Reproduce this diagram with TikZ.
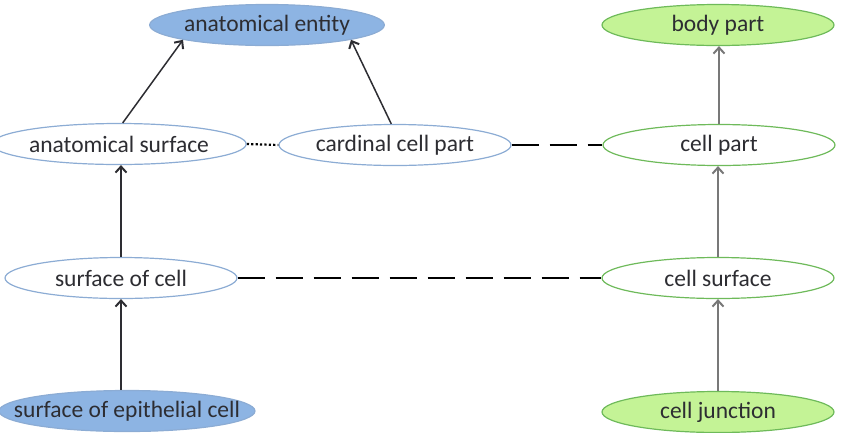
\documentclass[tikz,border=0pt]{standalone}
\usepackage{fontspec}
\setmainfont{Carlito}
\usetikzlibrary{shapes.geometric,arrows.meta}
\definecolor{bluefill}{RGB}{141,180,227}
\definecolor{blueline}{RGB}{140,172,212}
\definecolor{greenfill}{RGB}{196,243,150}
\definecolor{greenline}{RGB}{110,186,90}
\definecolor{textgray}{RGB}{45,45,50}
\definecolor{arrowgray}{RGB}{120,120,120}
\begin{document}
\begin{tikzpicture}[x=1pt,y=-1pt,>={Straight Barb[length=6pt,width=11pt,line width=2pt]},line join=round,font=\fontsize{23.5}{27}\selectfont,
	term/.style={ellipse,minimum width=232pt,minimum height=41pt,inner sep=0pt,text=textgray,line width=1.2pt},
	bterm/.style={term,draw=blueline,fill=white},
	bfill/.style={term,draw=blueline,fill=bluefill},
	gterm/.style={term,draw=greenline,fill=white},
	gfill/.style={term,draw=greenline,fill=greenfill},
	isa/.style={->,line width=1.5pt},
	same/.style={line width=2.8pt,dash pattern=on 27pt off 11pt},
	near/.style={line width=2.2pt,dash pattern=on 2.2pt off 2.2pt}]
	\useasboundingbox (0,0) rectangle (847,432);
	%cot trai
	\node[bfill] (ae) at (267,25) {anatomical entity};
	\node[bterm] (as) at (119,144) {anatomical surface};
	\node[bterm] (ccp) at (395,145) {cardinal cell part};
	\node[bterm] (soc) at (121,278) {surface of cell};
	\node[bfill,minimum width=256pt,inner xsep=-30pt] (sec) at (127,411) {surface of epithelial cell};
	%cot phai
	\node[gfill] (bp) at (718,25) {body part};
	\node[gterm] (cp) at (719,145) {cell part};
	\node[gterm] (cs) at (718,278) {cell surface};
	\node[gfill] (cj) at (718,412) {cell junction};
	%is-a
	\draw[isa,draw=textgray] (as.80) -- (ae.190);
	\draw[isa,draw=textgray] (ccp.100) -- (ae.350);
	\draw[isa,draw=textgray] (soc.north) -- (soc.north |- as.south);
	\draw[isa,draw=textgray] (soc.south |- sec.north) -- (soc.south);
	\draw[isa,draw=arrowgray] (cp.north) -- (cp.north |- bp.south);
	\draw[isa,draw=arrowgray] (cs.north) -- (cs.north |- cp.south);
	\draw[isa,draw=arrowgray] (cj.north) -- (cj.north |- cs.south);
	%tuong duong
	\draw[near] (as.east) -- (ccp.west);
	\draw[same] (ccp.east) -- (cp.west);
	\draw[same] (soc.east) -- (cs.west);
\end{tikzpicture}
\end{document}
